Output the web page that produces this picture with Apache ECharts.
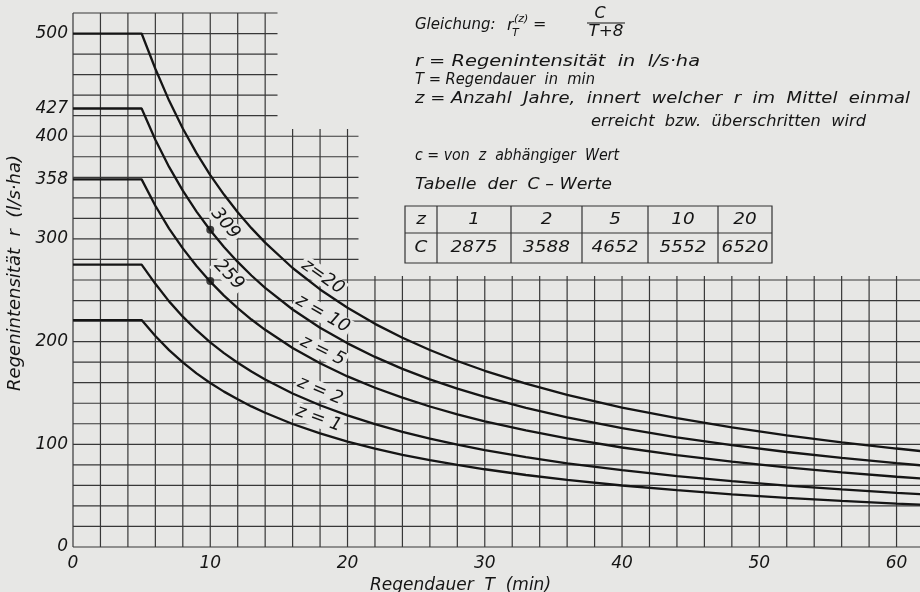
<!DOCTYPE html>
<html><head><meta charset="utf-8">
<script src="https://cdn.jsdelivr.net/npm/echarts@6/dist/echarts.min.js"></script>
<style>html,body{margin:0;padding:0;background:#e7e7e5}#c{width:920px;height:592px}</style>
</head><body><div id="c"></div>
<script>
// Regendauer T (min)
const durations = [0,5,6,7,8,9,10,11,12,13,14,16,18,20,22,24,26,28,30,33,36,40,44,48,52,56,60,62];
// Regenintensität r (l/s·ha)
const rZ20 = [500,500,465.7,434.7,407.5,383.5,362.2,343.2,326,310.5,296.4,271.7,250.8,232.9,217.3,203.8,191.8,181.1,171.6,159.0,148.2,135.8,125.4,116.4,108.7,101.9,95.9,93.1];
const rZ10 = [427,427,396.6,370.1,347,326.6,308.4,292.2,277.6,264.4,252.4,231.3,213.5,198.3,185.1,173.5,163.3,154.2,146.1,135.4,126.2,115.7,106.8,99.1,92.5,86.8,81.6,79.3];
const rZ5  = [358,358,332.3,310.1,290.8,273.6,258.4,244.8,232.6,221.5,211.5,193.8,178.9,166.1,155.1,145.4,136.8,129.2,122.4,113.5,105.7,96.9,89.5,83.1,77.5,72.7,68.4,66.5];
const rZ2  = [275,275,256.3,239.2,224.3,211.1,199.3,188.8,179.4,170.9,163.1,149.5,138,128.1,119.6,112.1,105.5,99.7,94.4,87.5,81.5,74.8,69,64.1,59.8,56.1,52.8,51.3];
const rZ1  = [221,221,205.4,191.7,179.7,169.1,159.7,151.3,143.8,136.9,130.7,119.8,110.6,102.7,95.8,89.8,84.6,79.9,75.7,70.1,65.3,59.9,55.3,51.3,47.9,44.9,42.3,41.1];
const curveNames = ['z=20','z=10','z=5','z=2','z=1'];
const curveLabels = ['z=20','z = 10','z = 5','z = 2','z = 1'];
const yTickLabels = [0,100,200,300,358,400,427,500];
const xTickLabels = [0,10,20,30,40,50,60];
const zValues = [1,2,5,10,20];
const cValues = [2875,3588,4652,5552,6520];
const markedPoints = [[10,309],[10,259]];
const markedLabels = ['309','259'];

const FAM = "'DejaVu Sans', sans-serif";
const INK = '#151515', GRIDC = '#383838', PAPER = '#e7e7e5';
const F = (s) => 'italic ' + s + 'px ' + FAM;

// paper grid (2 min × 20 l/s·ha), cut back where the text block sits
const segs = [];
for (let t = 0; t <= 60; t += 2) {
  const top = t <= 14 ? 520 : (t <= 20 ? 407 : 264);
  segs.push([t, 0, t, top]);
}
for (let r = 0; r <= 520; r += 20) {
  const right = r <= 260 ? 62 : (r <= 400 ? 20.8 : 14.9);
  segs.push([0, r, right, r]);
}

const curves = [rZ20, rZ10, rZ5, rZ2, rZ1];
const series = [];
series.push({
  type: 'custom', z: 1, silent: true,
  encode: {x: [0, 2], y: [1, 3]},
  data: segs,
  renderItem: (params, api) => {
    const p1 = api.coord([api.value(0), api.value(1)]);
    const p2 = api.coord([api.value(2), api.value(3)]);
    return {type: 'line', shape: {x1: p1[0], y1: p1[1], x2: p2[0], y2: p2[1]},
      style: {stroke: GRIDC, lineWidth: 1.2}};
  }
});
curves.forEach((vals, i) => {
  series.push({
    type: 'line', name: curveNames[i], z: 3, symbol: 'none', silent: true,
    data: durations.map((t, k) => [t, vals[k]]),
    lineStyle: {color: INK, width: 2.3}
  });
});
// labels along the curves
const labelPos = [[18.2,263,-35],[18.2,227,-30],[18.2,191,-26],[18.0,152,-23],[17.9,125,-20]];
const labelText = {fontFamily: FAM, fontStyle: 'italic', fontSize: 18, color: INK, opacity: 1,
  backgroundColor: PAPER, padding: [0, 2]};
series.push({
  type: 'scatter', z: 2, silent: true, symbol: 'circle', symbolSize: 0,
  itemStyle: {color: PAPER, opacity: 1},
  data: labelPos.map((p, i) => ({value: [p[0], p[1]],
    label: Object.assign({show: true, position: 'inside', rotate: p[2], formatter: curveLabels[i]}, labelText)}))
});
const numPos = [[11.1,315,-50],[11.35,265,-46]];
series.push({
  type: 'scatter', z: 2, silent: true, symbol: 'circle', symbolSize: 0,
  itemStyle: {color: PAPER, opacity: 1},
  data: numPos.map((p, i) => ({value: [p[0], p[1]],
    label: Object.assign({show: true, position: 'inside', rotate: p[2], formatter: markedLabels[i]}, labelText)}))
});
series.push({
  type: 'scatter', z: 4, silent: true, symbolSize: 8,
  itemStyle: {color: INK}, data: markedPoints
});

// text block and table
const mctx = document.createElement('canvas').getContext('2d');
const g = [];
const txt = (s, x, y, size, align, target, sx) => {
  let scale = sx || 1;
  if (target) { mctx.font = F(size); scale = target / mctx.measureText(s).width; }
  g.push({type: 'text', x: x, y: y, scaleX: scale, silent: true,
    style: {text: s, font: F(size), fill: INK, textAlign: align || 'left', textVerticalAlign: 'middle'}});
};
txt('Gleichung:', 415, 25, 15);
txt('r', 507, 26, 16);
txt('(z)', 514, 19, 11);
txt('T', 512, 33, 11);
txt('=', 533, 25, 16);
txt('C', 600, 14, 16, 'center');
g.push({type: 'line', silent: true, shape: {x1: 587, y1: 23, x2: 625, y2: 23}, style: {stroke: INK, lineWidth: 1.2}});
txt('T+8', 606, 32, 16, 'center', 35);
txt('r = Regenintensität  in  l/s·ha', 415, 62, 15, 'left', 285);
txt('T = Regendauer  in  min', 415, 80, 15, 'left', 180);
txt('z = Anzahl  Jahre,  innert  welcher  r  im  Mittel  einmal', 415, 99, 15, 'left', 495);
txt('erreicht  bzw.  überschritten  wird', 866, 122, 15, 'right', 275);
txt('c = von  z  abhängiger  Wert', 415, 156, 15, 'left', 204);
txt('Tabelle  der  C – Werte', 415, 185, 15, 'left', 197);
const colX = [405, 437, 511, 582, 648, 718, 772];
const rowY = [206, 233, 263];
const TS = {stroke: '#333', lineWidth: 1.2};
g.push({type: 'rect', silent: true, shape: {x: colX[0], y: rowY[0], width: colX[6] - colX[0], height: rowY[2] - rowY[0]}, style: Object.assign({fill: 'none'}, TS)});
g.push({type: 'line', silent: true, shape: {x1: colX[0], y1: rowY[1], x2: colX[6], y2: rowY[1]}, style: TS});
for (let i = 1; i < 6; i++) g.push({type: 'line', silent: true, shape: {x1: colX[i], y1: rowY[0], x2: colX[i], y2: rowY[2]}, style: TS});
txt('z', (colX[0] + colX[1]) / 2, 220, 16, 'center', null, 1.15);
txt('C', (colX[0] + colX[1]) / 2, 248, 16, 'center', null, 1.15);
zValues.forEach((z, i) => {
  const cx = (colX[i + 1] + colX[i + 2]) / 2;
  txt(String(z), cx, 220, 16, 'center', null, 1.15);
  txt(String(cValues[i]), cx, 248, 16, 'center', null, 1.15);
});

const axisLbl = {fontFamily: FAM, fontStyle: 'italic', fontSize: 17, color: INK};
const chart = echarts.init(document.getElementById('c'), null, {renderer: 'canvas'});
chart.setOption({
  backgroundColor: PAPER,
  animation: false,
  grid: {left: 73, right: -4, top: 13, bottom: 45, containLabel: false, outerBoundsMode: 'none'},
  xAxis: {
    type: 'value', min: 0, max: 62,
    axisLine: {show: false}, axisTick: {show: false}, splitLine: {show: false},
    axisLabel: Object.assign({customValues: xTickLabels, margin: 8}, axisLbl),
    name: 'Regendauer  T  (min)', nameLocation: 'middle', nameGap: 22,
    nameTextStyle: {fontFamily: FAM, fontStyle: 'italic', fontSize: 17, color: INK, padding: [0, 76, 0, 0]}
  },
  yAxis: {
    type: 'value', min: 0, max: 520,
    axisLine: {show: false}, axisTick: {show: false}, splitLine: {show: false},
    axisLabel: Object.assign({customValues: yTickLabels, margin: 5}, axisLbl),
    name: 'Regenintensität  r  (l/s·ha)', nameLocation: 'middle', nameGap: 41,
    nameTextStyle: {fontFamily: FAM, fontStyle: 'italic', fontSize: 18, color: INK, padding: [0, 0, 0, 14]}
  },
  series: series,
  graphic: g
});
</script></body></html>
